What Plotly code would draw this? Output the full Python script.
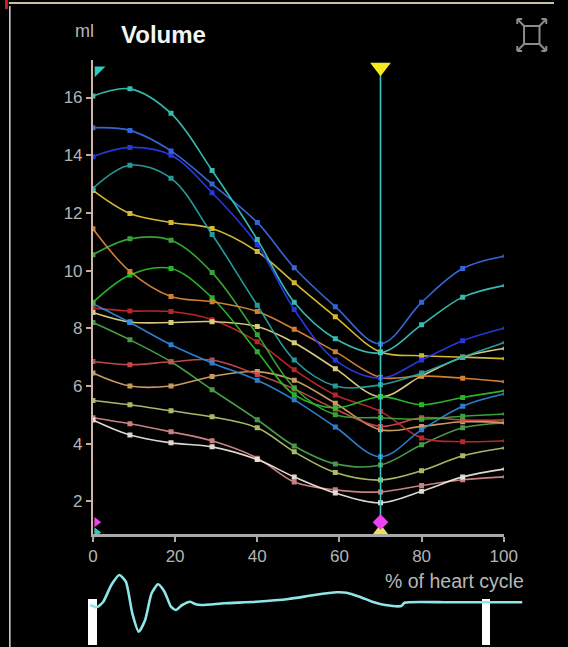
import plotly.graph_objects as go

W, H = 568, 647

# ---------------- data ----------------
pct = [0, 9, 19, 29, 40, 49, 59, 70, 80, 90, 100]

vol_a  = [16.05, 16.30, 15.45, 13.47, 11.08, 8.90, 7.64, 7.15, 8.12, 9.08, 9.48]
vol_b1 = [14.95, 14.86, 14.15, 13.00, 11.67, 10.10, 8.75, 7.46, 8.90, 10.07, 10.50]
vol_b2 = [13.95, 14.27, 14.00, 12.70, 10.90, 8.65, 6.90, 6.28, 6.90, 7.57, 8.00]
vol_c  = [12.85, 13.65, 13.20, 11.25, 8.80, 6.90, 6.00, 6.04, 6.45, 7.00, 7.50]
vol_y1 = [12.78, 11.98, 11.67, 11.46, 10.66, 9.58, 8.40, 7.18, 7.05, 7.00, 6.95]
vol_o1 = [11.45, 9.97, 9.10, 8.92, 8.58, 7.97, 7.19, 6.30, 6.35, 6.27, 6.15]
vol_g1 = [10.55, 11.10, 11.05, 9.93, 7.78, 5.94, 5.00, 4.90, 4.85, 4.95, 5.03]
vol_g2 = [8.90, 9.85, 10.07, 9.06, 7.19, 5.70, 5.24, 5.63, 5.35, 5.60, 5.83]
vol_b3 = [8.85, 8.20, 7.43, 6.80, 6.20, 5.52, 4.58, 3.55, 4.48, 5.30, 5.72]
vol_r1 = [8.70, 8.60, 8.58, 8.30, 7.53, 6.56, 5.69, 5.12, 4.20, 4.07, 4.10]
vol_y2 = [8.55, 8.22, 8.20, 8.23, 8.06, 7.50, 6.60, 5.63, 6.35, 7.00, 7.30]
vol_g3 = [8.20, 7.60, 6.84, 5.87, 4.83, 3.92, 3.30, 3.26, 3.96, 4.55, 4.72]
vol_r2 = [6.85, 6.74, 6.84, 6.90, 6.40, 5.90, 5.20, 4.60, 4.90, 4.82, 4.82]
vol_t  = [6.45, 6.00, 6.00, 6.33, 6.50, 6.20, 5.40, 4.48, 4.60, 4.76, 4.73]
vol_yg = [5.50, 5.35, 5.14, 4.93, 4.55, 3.72, 3.00, 2.74, 3.06, 3.58, 3.85]
vol_p  = [4.90, 4.69, 4.41, 4.10, 3.50, 2.67, 2.40, 2.33, 2.55, 2.75, 2.85]
vol_w  = [4.82, 4.30, 4.03, 3.89, 3.45, 2.85, 2.29, 1.95, 2.35, 2.85, 3.12]

series = [
    ("p", vol_p, "#d88c8c"),
    ("w", vol_w, "#f2ebe2"),
    ("yg", vol_yg, "#b8c870"),
    ("g3", vol_g3, "#4fa64f"),
    ("t", vol_t, "#d8a868"),
    ("r2", vol_r2, "#d05050"),
    ("r1", vol_r1, "#c82a2a"),
    ("y2", vol_y2, "#e8dc88"),
    ("b3", vol_b3, "#3088e0"),
    ("g2", vol_g2, "#2cc42c"),
    ("g1", vol_g1, "#3cb03c"),
    ("o1", vol_o1, "#e08a38"),
    ("y1", vol_y1, "#e6c838"),
    ("c", vol_c, "#2aa8a8"),
    ("b2", vol_b2, "#2a3cf0"),
    ("b1", vol_b1, "#3a6ee8"),
    ("a", vol_a, "#3cc8c0"),
]

y_ticks = [2, 4, 6, 8, 10, 12, 14, 16]
x_ticks = [0, 20, 40, 60, 80, 100]
y_range = [0.87, 17.3]
x_range = [0, 100]
cursor_x = 70

# ECG strip (x in % of heart cycle, y arbitrary units)
ecg_x = [-0.64, 0.94, 2.52, 4.47, 6.42, 8.0, 9.58, 11.13, 12.7, 14.28, 15.84,
         17.41, 18.99, 20.16, 21.72, 23.69, 24.87, 26.42, 31.93, 39.76, 47.6,
         53.88, 59.36, 61.72, 64.87, 68.0, 71.13, 75.06, 75.84, 86.82, 104.5]
ecg_y = [-0.3, -0.53, 0.03, 1.7, 2.7, 2.03, -1.13, -2.97, -1.8, 0.87, 1.77,
         1.03, -0.47, -0.8, -0.3, 0.03, -0.2, -0.3, -0.13, 0.03, 0.3,
         0.7, 0.97, 0.93, 0.53, 0.03, -0.3, -0.4, -0.07, -0.03, -0.03]
ecg_gate_x = [0, 95.8]
ecg_gate_base = -4.3
ecg_gate_len = 4.6

# ---------------- figure ----------------
fig = go.Figure()

marker_symbols = ["square"] * (len(pct) - 1) + ["triangle-left"]
for name, vals, col in series:
    fig.add_trace(go.Scatter(
        x=pct, y=vals, mode="lines+markers",
        line=dict(color=col, width=1.6, shape="spline", smoothing=1.0),
        marker=dict(color=col, size=5, symbol=marker_symbols),
        opacity=0.92, showlegend=False, hoverinfo="skip"))

# cursor line
fig.add_trace(go.Scatter(
    x=[cursor_x, cursor_x], y=[y_range[0], 17.05], mode="lines",
    line=dict(color="#3ec6c6", width=1.6), showlegend=False, hoverinfo="skip"))
# cursor handles
fig.add_trace(go.Scatter(
    x=[cursor_x], y=[17.05], mode="markers", cliponaxis=False,
    marker=dict(symbol="triangle-down", size=18, color="#f2ec1e"),
    showlegend=False, hoverinfo="skip"))
fig.add_trace(go.Scatter(
    x=[cursor_x], y=[0.95], mode="markers", cliponaxis=False,
    marker=dict(symbol="triangle-up", size=15, color="#e8e060"),
    showlegend=False, hoverinfo="skip"))
fig.add_trace(go.Scatter(
    x=[cursor_x], y=[1.28], mode="markers", cliponaxis=False,
    marker=dict(symbol="diamond", size=12, color="#f040f0"),
    showlegend=False, hoverinfo="skip"))
# left range handles
fig.add_trace(go.Scatter(
    x=[x_range[0] + 1.3], y=[16.95], mode="markers", cliponaxis=False,
    marker=dict(symbol="triangle-nw", size=12, color="#30c8c0"),
    showlegend=False, hoverinfo="skip"))
fig.add_trace(go.Scatter(
    x=[x_range[0] + 0.9], y=[1.28], mode="markers", cliponaxis=False,
    marker=dict(symbol="triangle-right", size=9, color="#f040f0"),
    showlegend=False, hoverinfo="skip"))
fig.add_trace(go.Scatter(
    x=[x_range[0] + 0.9], y=[0.92], mode="markers", cliponaxis=False,
    marker=dict(symbol="triangle-right", size=9, color="#30c8c0"),
    showlegend=False, hoverinfo="skip"))

# ECG gates and trace
fig.add_trace(go.Bar(
    x=ecg_gate_x, y=[ecg_gate_len] * len(ecg_gate_x), base=ecg_gate_base,
    width=2.1, marker=dict(color="#ffffff", line=dict(width=0)),
    xaxis="x2", yaxis="y2", showlegend=False, hoverinfo="skip"))
fig.add_trace(go.Scatter(
    x=ecg_x, y=ecg_y, mode="lines",
    line=dict(color="#8ee6e6", width=2.6, shape="spline", smoothing=0.6),
    xaxis="x2", yaxis="y2", showlegend=False, hoverinfo="skip"))

def px_x(p):
    return p / W

def px_y(p):
    return 1 - p / H

FONT = "Liberation Sans, Arial, sans-serif"
tick_font = dict(family=FONT, size=17, color="#b4b4b4")

fig.update_layout(
    width=W, height=H, autosize=False,
    margin=dict(l=0, r=0, t=0, b=0),
    paper_bgcolor="#000000", plot_bgcolor="#000000",
    showlegend=False,
    xaxis=dict(domain=[px_x(91), px_x(516)], range=x_range,
               tickvals=x_ticks, ticks="outside", ticklen=5, tickwidth=1.5,
               tickcolor="#a8a8a8", showline=True, linecolor="#a8a8a8", linewidth=2.5,
               showgrid=False, zeroline=False, tickfont=tick_font, anchor="y"),
    yaxis=dict(domain=[px_y(534), px_y(60)], range=y_range,
               tickvals=y_ticks, ticks="outside", ticklen=5, tickwidth=1.5,
               tickcolor="#c8aca0", showline=True, linecolor="#d2b4a6", linewidth=2,
               showgrid=False, zeroline=False, tickfont=tick_font, anchor="x"),
    xaxis2=dict(domain=[px_x(80), px_x(545)], range=[-2.588, 106.82],
                visible=False, anchor="y2"),
    yaxis2=dict(domain=[px_y(647), px_y(565)], range=[-4.5, 3.7],
                visible=False, anchor="x2"),
    bargap=0,
)

annotations = [
    dict(text="ml", x=px_x(82), y=px_y(31), xref="paper", yref="paper",
         showarrow=False, xanchor="center", yanchor="middle",
         font=dict(family=FONT, size=18, color="#b8b8b8")),
    dict(text="<b>Volume</b>", x=px_x(118), y=px_y(34), xref="paper", yref="paper",
         showarrow=False, xanchor="left", yanchor="middle",
         font=dict(family=FONT, size=24, color="#f4f4f4")),
    dict(text="% of heart cycle", x=px_x(539), y=px_y(581), xref="paper", yref="paper",
         showarrow=False, xanchor="right", yanchor="middle",
         font=dict(family=FONT, size=19.5, color="#b8b8b8")),
]
fig.update_layout(annotations=annotations)

shapes = []
# frame
shapes.append(dict(type="line", xref="paper", yref="paper", x0=px_x(4), x1=1,
                   y0=px_y(3), y1=px_y(3), line=dict(color="#c8c496", width=2)))
shapes.append(dict(type="line", xref="paper", yref="paper", x0=px_x(5), x1=px_x(5),
                   y0=px_y(6), y1=0, line=dict(color="#d8d8d8", width=1.5)))
shapes.append(dict(type="rect", xref="paper", yref="paper", x0=0, x1=px_x(3),
                   y0=px_y(9), y1=1, line=dict(width=0), fillcolor="#d02020"))
# fullscreen icon
ic = "#8c8c8c"
shapes.append(dict(type="rect", xref="paper", yref="paper", x0=px_x(537), x1=px_x(553),
                   y0=px_y(44), y1=px_y(26), line=dict(color=ic, width=2)))
for (cx, cy, dx, dy) in [(537, 26, -1, -1), (553, 26, 1, -1), (537, 44, -1, 1), (553, 44, 1, 1)]:
    tx, ty = cx + 7 * dx, cy + 7 * dy
    shapes.append(dict(type="line", xref="paper", yref="paper", x0=px_x(cx), y0=px_y(cy),
                       x1=px_x(tx), y1=px_y(ty), line=dict(color=ic, width=2)))
    shapes.append(dict(type="line", xref="paper", yref="paper", x0=px_x(tx), y0=px_y(ty),
                       x1=px_x(tx - 5 * dx), y1=px_y(ty), line=dict(color=ic, width=2)))
    shapes.append(dict(type="line", xref="paper", yref="paper", x0=px_x(tx), y0=px_y(ty),
                       x1=px_x(tx), y1=px_y(ty - 5 * dy), line=dict(color=ic, width=2)))
fig.update_layout(shapes=shapes)

fig.write_html("out.html", config={"displayModeBar": False, "responsive": False},
               post_script="document.body.style.margin='0';document.body.style.overflow='hidden';")
